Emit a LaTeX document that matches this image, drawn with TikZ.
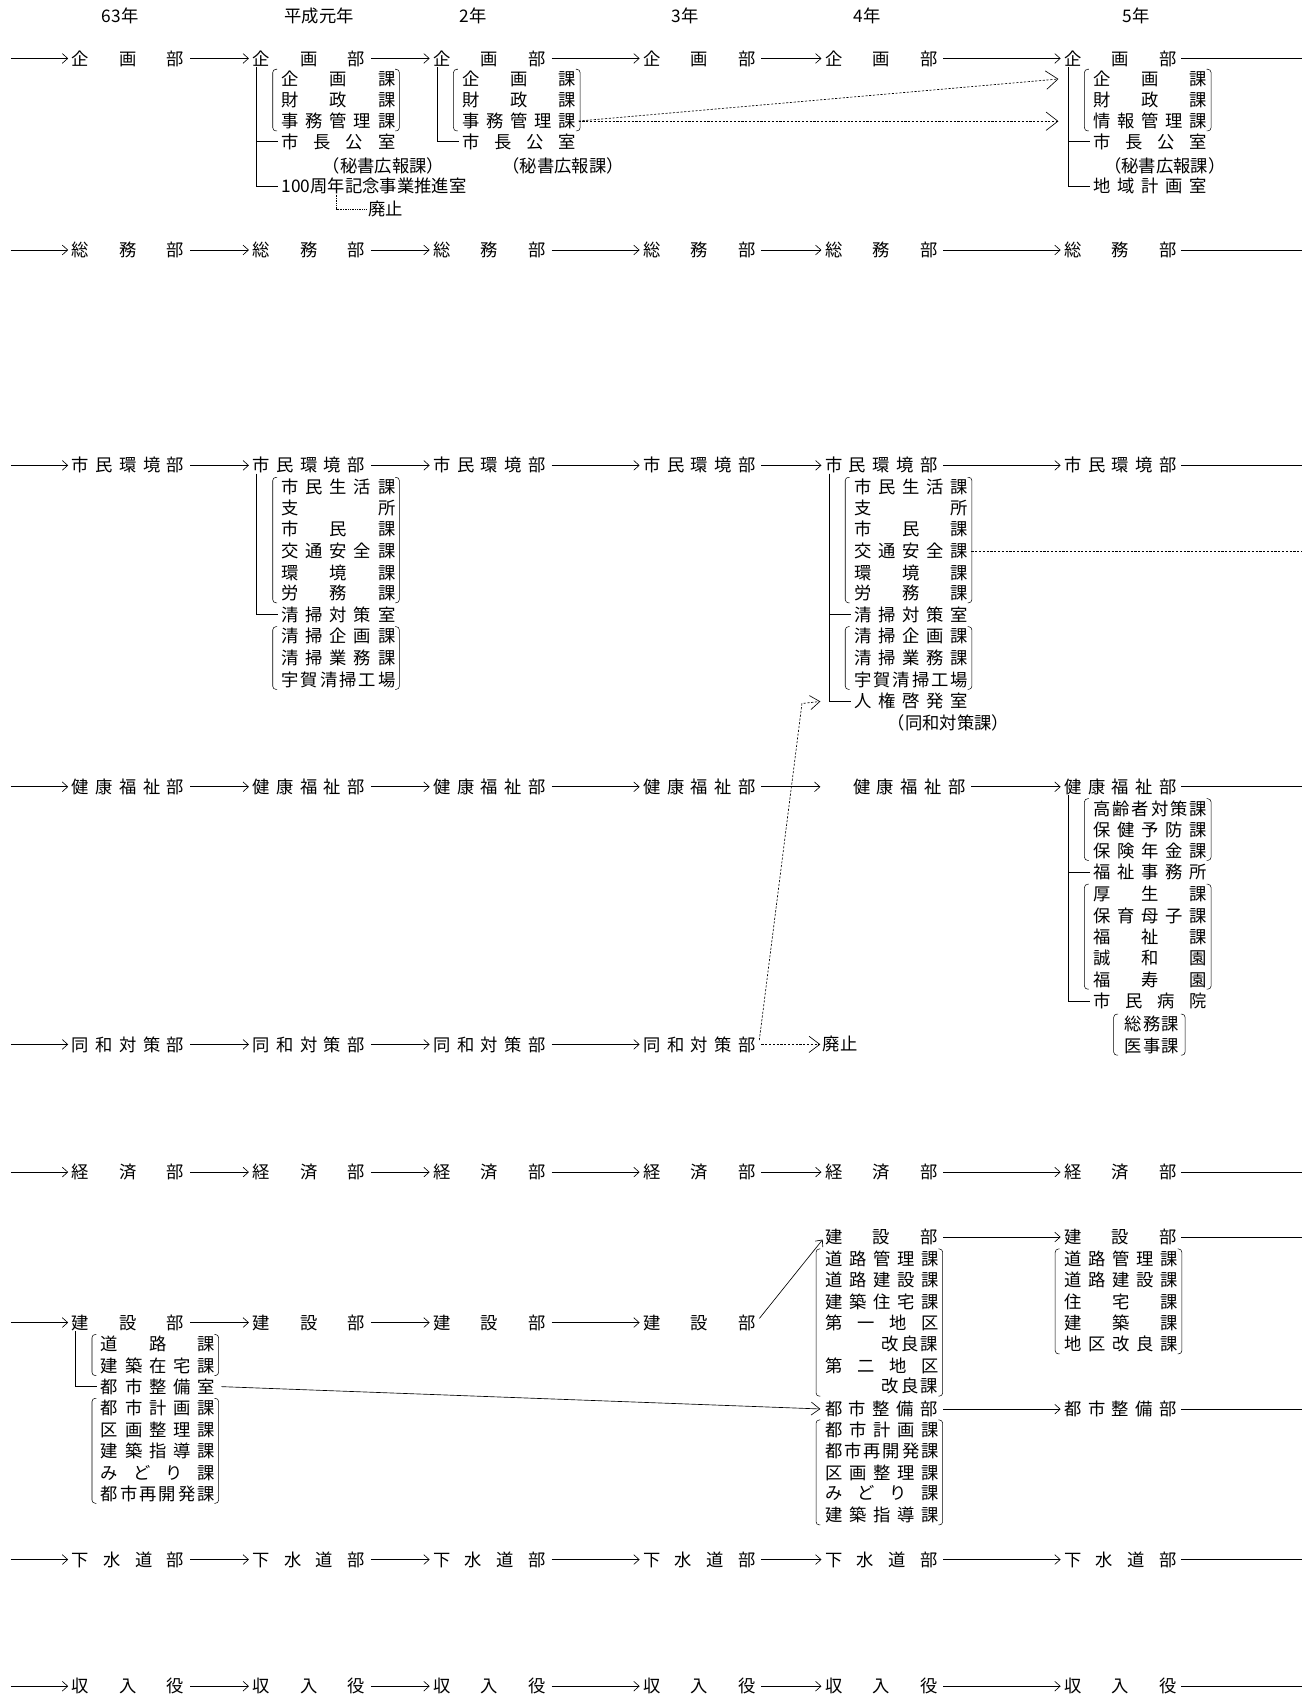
\documentclass[tikz,border=0pt]{standalone}
\usepackage{fontspec}
\newfontfamily\jp{Noto Sans CJK JP}
\usetikzlibrary{arrows.meta}
\ExplSyntaxOn
\NewDocumentCommand\SPR{O{104pt}m}{\makebox[#1][s]{\exp_args:No\tl_map_inline:nn{#2}{##1\hfil}\unskip}}
\ExplSyntaxOff
\newcommand\itm[4]{\node[item] (#1) at (#2,#3) {\SPR[105pt]{#4}};}
\newcommand\brk[4]{\draw[rounded corners=3pt,line width=0.5pt] (#1+4,#3) -- (#1,#3) -- (#1,#4) -- (#1+4,#4) (#2-4,#3) -- (#2,#3) -- (#2,#4) -- (#2-4,#4);}
\begin{document}
\begin{tikzpicture}[x=1pt,y=-1pt,
  font=\jp\fontsize{16}{18}\selectfont, line width=0.6pt,
  dept/.style={anchor=west,inner sep=0pt},
  item/.style={anchor=west,inner sep=0pt},
  arr/.style={-{Straight Barb[length=5pt,width=9pt]},shorten <=5pt,shorten >=3pt},
  first/.style={-{Straight Barb[length=5pt,width=9pt]},shorten >=3pt},
  tail/.style={shorten <=4pt},
  tree/.style={shorten >=3pt},
  dsh/.style={dash pattern=on 2pt off 1.5pt},
  bigarr/.style={dsh,-{Straight Barb[length=11pt,width=17pt]},shorten <=2pt},
]
\useasboundingbox (0,0) rectangle (1211,1568);

% years
\node (y63) at (111,15) {63年};
\node (yh1) at (295,15) {平成元年};
\node (yh2) at (437,15) {2年};
\node (yh3) at (633,15) {3年};
\node (yh4) at (801,15) {4年};
\node (yh5) at (1050,15) {5年};

% columns 0-3
\foreach \n/\y/\t in {kk/54/企画部,sm/231/総務部,sk/430/市民環境部,kf/727/健康福祉部,dw/965/同和対策部,kz/1083/経済部,ks/1222/建設部,gs/1441/下水道部,sy/1558/収入役}{
  \coordinate (\n s) at (10,\y);
  \node[dept] (\n0) at (66,\y) {\SPR{\t}};
  \node[dept] (\n1) at (233,\y) {\SPR{\t}};
  \node[dept] (\n2) at (400,\y) {\SPR{\t}};
  \node[dept] (\n3) at (594,\y) {\SPR{\t}};
  \draw[first] (\n s) -- (\n0);
  \draw[arr] (\n0) -- (\n1);
  \draw[arr] (\n1) -- (\n2);
  \draw[arr] (\n2) -- (\n3);
}
% columns 4-5 (regular rows)
\foreach \n/\y/\t in {kk/54/企画部,sm/231/総務部,sk/430/市民環境部,kz/1083/経済部,gs/1441/下水道部,sy/1558/収入役}{
  \node[dept] (\n4) at (762,\y) {\SPR{\t}};
  \node[dept] (\n5) at (983,\y) {\SPR{\t}};
  \coordinate (\n e) at (1203,\y);
  \draw[arr] (\n3) -- (\n4);
  \draw[arr] (\n4) -- (\n5);
  \draw[tail] (\n5) -- (\n e);
}

% ---------- 企画部 ----------
\itm{kk1a}{260}{73}{企画課}
\itm{kk1b}{260}{92}{財政課}
\itm{kk1c}{260}{112}{事務管理課}
\brk{252}{369}{64}{121}
\itm{kk1d}{260}{131}{市長公室}
\node[item] (kk1e) at (298,153) {（秘書広報課）};
\node[item] (kk1f) at (260,172) {100周年記念事業推進室};
\node[item] (kk1g) at (340,193) {廃止};
\draw[tree] ([xshift=4pt]kk1.south west) |- (kk1d.west);
\draw[tree] ([xshift=4pt]kk1.south west) |- (kk1f.west);
\draw[densely dotted,shorten >=2pt] ([xshift=51pt]kk1f.south west) |- (kk1g.west);

\itm{kk2a}{427}{73}{企画課}
\itm{kk2b}{427}{92}{財政課}
\itm{kk2c}{427}{112}{事務管理課}
\brk{419}{536}{64}{121}
\itm{kk2d}{427}{131}{市長公室}
\node[item] (kk2e) at (464,153) {（秘書広報課）};
\draw[tree] ([xshift=4pt]kk2.south west) |- (kk2d.west);

\coordinate (kkA) at (978,73);
\coordinate (kkB) at (978,112);
\draw[bigarr] (kk2c.east) -- (kkA);
\draw[bigarr] (kk2c.east) -- (kkB);

\itm{kk5a}{1010}{73}{企画課}
\itm{kk5b}{1010}{92}{財政課}
\itm{kk5c}{1010}{112}{情報管理課}
\brk{1002}{1119}{64}{121}
\itm{kk5d}{1010}{131}{市長公室}
\node[item] (kk5e) at (1020,153) {（秘書広報課）};
\itm{kk5f}{1010}{172}{地域計画室}
\draw[tree] ([xshift=4pt]kk5.south west) |- (kk5d.west);
\draw[tree] ([xshift=4pt]kk5.south west) |- (kk5f.west);

% ---------- 市民環境部 ----------
\itm{sk1a}{260}{450}{市民生活課}
\itm{sk1b}{260}{469}{支所}
\itm{sk1c}{260}{489}{市民課}
\itm{sk1d}{260}{509}{交通安全課}
\itm{sk1e}{260}{529}{環境課}
\itm{sk1f}{260}{548}{労務課}
\brk{252}{369}{441}{557}
\itm{sk1g}{260}{568}{清掃対策室}
\itm{sk1h}{260}{588}{清掃企画課}
\itm{sk1i}{260}{608}{清掃業務課}
\itm{sk1j}{260}{628}{宇賀清掃工場}
\brk{252}{369}{579}{637}
\draw[tree] ([xshift=4pt]sk1.south west) |- (sk1g.west);

\itm{sk4a}{789}{450}{市民生活課}
\itm{sk4b}{789}{469}{支所}
\itm{sk4c}{789}{489}{市民課}
\itm{sk4d}{789}{509}{交通安全課}
\itm{sk4e}{789}{529}{環境課}
\itm{sk4f}{789}{548}{労務課}
\brk{781}{898}{441}{557}
\itm{sk4g}{789}{568}{清掃対策室}
\itm{sk4h}{789}{588}{清掃企画課}
\itm{sk4i}{789}{608}{清掃業務課}
\itm{sk4j}{789}{628}{宇賀清掃工場}
\brk{781}{898}{579}{637}
\itm{sk4k}{789}{648}{人権啓発室}
\node[item] (sk4l) at (820,668) {（同和対策課）};
\draw[tree] ([xshift=4pt]sk4.south west) |- (sk4g.west);
\draw[tree] ([xshift=4pt]sk4.south west) |- (sk4k.west);
\coordinate (ske) at (1203,509);
\draw[dsh,shorten <=3pt] (sk4d.east) -- (ske);

% ---------- 健康福祉部 ----------
\coordinate (kfa) at (758,727);
\draw[first,shorten <=5pt,shorten >=0pt] (kf3) -- (kfa);
\node[dept] (kf4) at (788,727) {\SPR{健康福祉部}};
\node[dept] (kf5) at (983,727) {\SPR{健康福祉部}};
\coordinate (kfe) at (1203,727);
\draw[arr] (kf4) -- (kf5);
\draw[tail] (kf5) -- (kfe);

\itm{kf5a}{1010}{747}{高齢者対策課}
\itm{kf5b}{1010}{767}{保健予防課}
\itm{kf5c}{1010}{786}{保険年金課}
\brk{1002}{1119}{738}{795}
\itm{kf5d}{1010}{806}{福祉事務所}
\itm{kf5e}{1010}{826}{厚生課}
\itm{kf5f}{1010}{846}{保育母子課}
\itm{kf5g}{1010}{866}{福祉課}
\itm{kf5h}{1010}{885}{誠和園}
\itm{kf5i}{1010}{905}{福寿園}
\brk{1002}{1119}{817}{914}
\itm{kf5j}{1010}{925}{市民病院}
\node[item] (kf5k) at (1039,946) {\SPR[50pt]{総務課}};
\node[item] (kf5l) at (1039,966) {\SPR[50pt]{医事課}};
\brk{1029}{1095}{937}{975}
\draw[tree] ([xshift=4pt]kf5.south west) |- (kf5d.west);
\draw[tree] ([xshift=4pt]kf5.south west) |- (kf5j.west);

% ---------- 同和対策部 ----------
\node[item] (dwx) at (760,965) {廃止};
\draw[dsh,-{Straight Barb[length=10pt,width=15pt]},shorten <=5pt,shorten >=2pt] (dw3) -- (dwx);
\coordinate (dwk) at (741,650);
\draw[dsh,-{Straight Barb[length=9pt,width=13pt]},shorten >=1pt] ([shift={(3pt,4pt)}]dw3.east) -- (dwk) -- ([xshift=-30pt]sk4k.west);

% ---------- 建設部 ----------
\itm{ks0a}{93}{1242}{道路課}
\itm{ks0b}{93}{1262}{建築在宅課}
\brk{85}{202}{1233}{1271}
\itm{ks0c}{93}{1281}{都市整備室}
\itm{ks0d}{93}{1301}{都市計画課}
\itm{ks0e}{93}{1321}{区画整理課}
\itm{ks0f}{93}{1341}{建築指導課}
\itm{ks0g}{93}{1361}{みどり課}
\itm{ks0h}{93}{1380}{都市再開発課}
\brk{85}{202}{1292}{1389}
\draw[tree] ([xshift=4pt]ks0.south west) |- (ks0c.west);

\node[dept] (ks4) at (762,1143) {\SPR{建設部}};
\node[dept] (ks5) at (983,1143) {\SPR{建設部}};
\coordinate (kse) at (1203,1143);
\draw[arr] (ks3.east) -- (ks4.west);
\draw[arr] (ks4) -- (ks5);
\draw[tail] (ks5) -- (kse);

\itm{ks4a}{762}{1163}{道路管理課}
\itm{ks4b}{762}{1183}{道路建設課}
\itm{ks4c}{762}{1203}{建築住宅課}
\itm{ks4d}{762}{1222}{第一地区}
\node[anchor=east,inner sep=0pt] (ks4e) at (867,1242) {\SPR[52pt]{改良課}};
\itm{ks4f}{762}{1262}{第二地区}
\node[anchor=east,inner sep=0pt] (ks4g) at (867,1281) {\SPR[52pt]{改良課}};
\brk{754}{871}{1154}{1290}

\itm{ks5a}{983}{1163}{道路管理課}
\itm{ks5b}{983}{1183}{道路建設課}
\itm{ks5c}{983}{1203}{住宅課}
\itm{ks5d}{983}{1222}{建築課}
\itm{ks5e}{983}{1242}{地区改良課}
\brk{975}{1092}{1154}{1251}

% ---------- 都市整備部 ----------
\node[dept] (ts4) at (762,1302) {\SPR{都市整備部}};
\node[dept] (ts5) at (983,1302) {\SPR{都市整備部}};
\coordinate (tse) at (1203,1302);
\draw[arr] (ts4) -- (ts5);
\draw[tail] (ts5) -- (tse);
\draw[-{Straight Barb[length=8pt,width=12pt]},shorten <=6pt,shorten >=4pt] (ks0c.east) -- (ts4.west);

\itm{ts4a}{762}{1321}{都市計画課}
\itm{ts4b}{762}{1341}{都市再開発課}
\itm{ts4c}{762}{1361}{区画整理課}
\itm{ts4d}{762}{1380}{みどり課}
\itm{ts4e}{762}{1400}{建築指導課}
\brk{754}{871}{1312}{1409}
\end{tikzpicture}
\end{document}
